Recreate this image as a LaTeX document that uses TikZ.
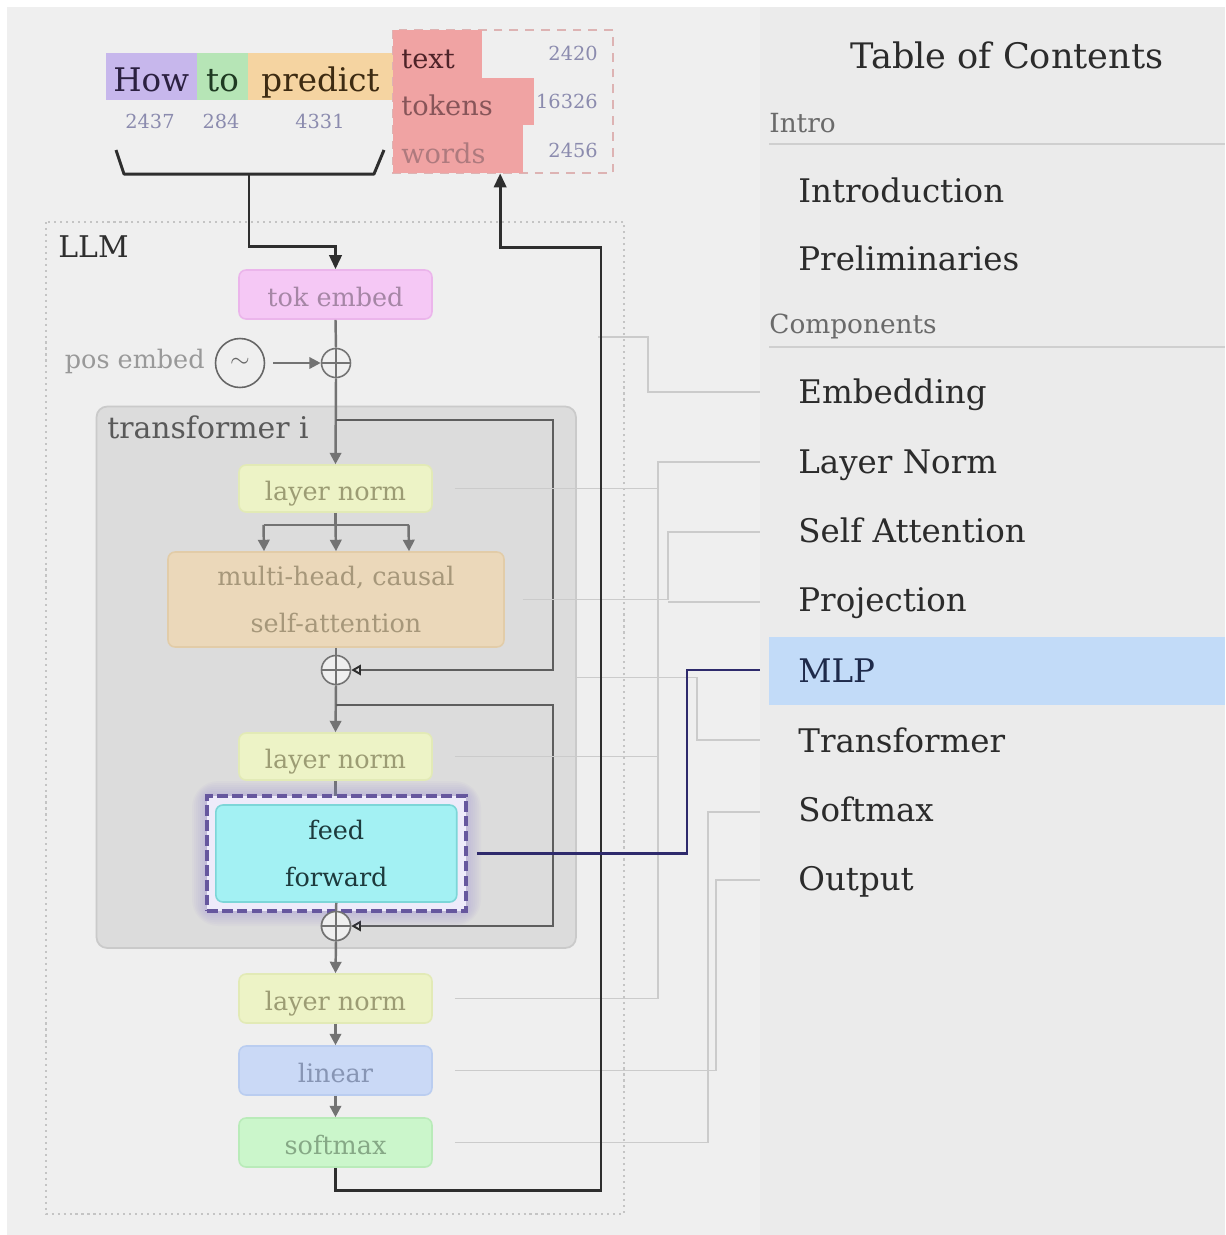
\documentclass[tikz,border=0pt]{standalone}
\usepackage{fontspec}
\setmainfont{DejaVu Serif}
\usetikzlibrary{arrows.meta,calc}

% page and panel
\definecolor{pagebg}{HTML}{EBEBEB}
\definecolor{panelbg}{HTML}{EFEFEF}
\definecolor{llmframe}{HTML}{C4C4C4}
\definecolor{tfbg}{HTML}{DCDCDC}
\definecolor{tfedge}{HTML}{CACACA}
\definecolor{flow}{HTML}{737373}
\definecolor{resid}{HTML}{5E5E5E}
\definecolor{ink}{HTML}{2E2E2E}
% blocks
\definecolor{tokfill}{HTML}{F5C8F5}\definecolor{tokedge}{HTML}{EBB5EB}\definecolor{toktext}{HTML}{A586A5}
\definecolor{lnfill}{HTML}{EDF3C6}\definecolor{lnedge}{HTML}{E2EAB6}\definecolor{lntext}{HTML}{9C9C74}
\definecolor{attfill}{HTML}{EBD8BA}\definecolor{attedge}{HTML}{E2CCA8}\definecolor{atttext}{HTML}{A6977A}
\definecolor{linfill}{HTML}{CAD9F6}\definecolor{linedge}{HTML}{BACDF0}\definecolor{lintext}{HTML}{8795B4}
\definecolor{smfill}{HTML}{CBF6CB}\definecolor{smedge}{HTML}{B9EBB9}\definecolor{smtext}{HTML}{86A886}
\definecolor{fffill}{HTML}{A3F1F3}\definecolor{ffedge}{HTML}{7DD6D8}\definecolor{fftext}{HTML}{1D3A3C}
\definecolor{ffframe}{HTML}{66579E}\definecolor{ffglow}{HTML}{8A78D8}\definecolor{ffhalo}{HTML}{EEEBFA}
% tokens
\definecolor{howfill}{HTML}{C7B7EC}\definecolor{howtext}{HTML}{2B2040}
\definecolor{tofill}{HTML}{B6E5B6}\definecolor{totext}{HTML}{1F3A22}
\definecolor{predfill}{HTML}{F5D4A1}\definecolor{predtext}{HTML}{3D2B12}
\definecolor{candfill}{HTML}{F0A3A3}
\definecolor{candA}{HTML}{4E2328}\definecolor{candB}{HTML}{875559}\definecolor{candC}{HTML}{AE7A7E}
\definecolor{numc}{HTML}{8B8BAE}
\definecolor{dashred}{HTML}{DDB3B3}
% contents list
\definecolor{mlpband}{HTML}{C2DBF8}
\definecolor{mlpink}{HTML}{1E2A4A}
\definecolor{mlplink}{HTML}{2E2A6C}
\definecolor{faint}{HTML}{CBCBCB}
\definecolor{tocink}{HTML}{2B2B2B}
\definecolor{tochead}{HTML}{6A6A6A}
\definecolor{tocrule}{HTML}{CFCFCF}

\tikzset{
  blk/.style={draw, rounded corners=4pt, line width=0.9pt, minimum width=3.86cm,
    minimum height=0.96cm, inner sep=0pt, text height=13.5pt, text depth=0pt,
    font=\fontsize{14.5}{26}\selectfont},
  twoline/.style={draw, rounded corners=4pt, line width=0.9pt, inner sep=0pt,
    align=center, font=\fontsize{14.5}{27}\selectfont},
  sumnode/.style={circle, draw=flow, line width=0.9pt, fill=panelbg, minimum size=0.58cm,
    inner sep=0pt, path picture={\draw[flow, line width=0.9pt]
      (path picture bounding box.north) -- (path picture bounding box.south)
      (path picture bounding box.west) -- (path picture bounding box.east);}},
  flowline/.style={draw=flow, line width=1.4pt},
  flowarrow/.style={flowline, -{Triangle[length=6.5pt,width=6.5pt]}},
  residline/.style={draw=resid, line width=1.2pt,
    -{Triangle[open,length=5.5pt,width=6pt,line width=1.1pt,color=ink]}},
  mainline/.style={draw=ink, line width=1.7pt},
  mainarrow/.style={mainline, -{Triangle[length=8pt,width=7pt]}},
  faintline/.style={draw=faint, line width=0.6pt},
  tocitem/.style={anchor=base west, inner sep=0pt, text=tocink, font=\fontsize{18.5}{22}\selectfont},
  tochd/.style={anchor=base west, inner sep=0pt, text=tochead, font=\fontsize{15}{18}\selectfont},
  num/.style={anchor=base, inner sep=0pt, text=numc, font=\fontsize{11}{13}\selectfont},
  tokw/.style={inner sep=0pt, minimum height=0.94cm, text height=17.6pt, text depth=0pt,
    font=\fontsize{18.5}{22}\selectfont},
  candbox/.style={fill=candfill, inner sep=0pt},
  candw/.style={anchor=base west, inner sep=0pt, font=\fontsize{15.5}{18}\selectfont},
  lbl/.style={anchor=base west, inner sep=0pt, font=\fontsize{17}{20}\selectfont},
}

\begin{document}
\begin{tikzpicture}[x={(0.02cm,0)}, y={(0,-0.02cm)}]
\useasboundingbox (0,0) rectangle (1225,1235);

% backgrounds
\fill[white] (0,0) rectangle (1225,1235);
\fill[panelbg] (7,7) rectangle (760,1235);
\fill[pagebg] (760,7) rectangle (1225,1235);

% ---------- input tokens ----------
\node[tokw, fill=howfill, text=howtext, minimum width=1.83cm] (how) at (151.25,76.5) {How};
\node[tokw, fill=tofill, text=totext, minimum width=1.02cm] (to) at (222.5,76.5) {to};
\node[tokw, fill=predfill, text=predtext, minimum width=2.9cm] (pred) at (320.5,76.5) {predict};
\node[num] (nhow) at (150,128) {2437};
\node[num] (nto) at (221,128) {284};
\node[num] (npred) at (320,128) {4331};

% ---------- candidate next tokens ----------
\draw[dashred, line width=1pt, dash pattern=on 5pt off 4pt] (393,30) rectangle (613,173);
\node[candbox, minimum width=1.78cm, minimum height=0.96cm] (cText) at (437.5,54) {};
\node[candbox, minimum width=2.82cm, minimum height=0.94cm] (cTok) at (463.5,101.5) {};
\node[candbox, minimum width=2.6cm, minimum height=0.96cm] (cWords) at (458,149) {};
\node[candw, text=candA] (wText) at (401,68) {text};
\node[candw, text=candB] (wTok) at (401,115) {tokens};
\node[candw, text=candC] (wWords) at (401,163) {words};
\node[num, anchor=base east] (pText) at (598,60) {2420};
\node[num, anchor=base east] (pTok) at (598,108) {16326};
\node[num, anchor=base east] (pWords) at (598,157) {2456};

% ---------- LLM frame ----------
\draw[llmframe, line width=1.2pt, dash pattern=on 1.2pt off 2.2pt] (46,222) rectangle (624,1214);
\node[lbl, text=ink] (llm) at (58,257) {LLM};

% transformer block
\node[draw=tfedge, fill=tfbg, line width=1pt, rounded corners=6pt, minimum width=9.59cm,
  minimum height=10.83cm, inner sep=0pt] (tf) at (336.25,677.25) {};
\node[lbl, text=black!65] (tflabel) at (107,438) {transformer i};

% ---------- blocks ----------
\node[blk, fill=tokfill, draw=tokedge, text=toktext, minimum height=0.98cm] (tok) at (335.5,294.5) {tok embed};
\node[sumnode] (s1) at (336,363) {};
\node[circle, draw=black!60, line width=0.9pt, minimum size=0.98cm, inner sep=0pt,
  font=\fontsize{14}{16}\selectfont, text=black!60] (pos) at (240,363) {$\sim$};
\node[anchor=base east, inner sep=0pt, text=black!40, font=\fontsize{14.5}{18}\selectfont] (poslbl) at (205,368) {pos embed};

\node[blk, fill=lnfill, draw=lnedge, text=lntext, minimum height=0.94cm] (ln1) at (335.5,488.5) {layer norm};
\node[twoline, fill=attfill, draw=attedge, text=atttext, minimum width=6.72cm, minimum height=1.9cm] (attn) at (336,599.5) {multi-head, causal\\self-attention};
\node[sumnode] (s2) at (336,670) {};
\node[blk, fill=lnfill, draw=lnedge, text=lntext, minimum height=0.94cm] (ln2) at (335.5,756.5) {layer norm};
\node[sumnode] (s3) at (336,926) {};
\node[blk, fill=lnfill, draw=lnedge, text=lntext, minimum height=0.98cm] (ln3) at (335.5,998.5) {layer norm};
\node[blk, fill=linfill, draw=linedge, text=lintext, minimum height=0.98cm] (lin) at (335.5,1070.5) {linear};
\node[blk, fill=smfill, draw=smedge, text=smtext, minimum height=0.98cm] (soft) at (335.5,1142.5) {softmax};

% ---------- flow inside the model ----------
\draw[flowline] (tok.south) -- (s1.north);
\draw[flowarrow] ($(pos.east)+(8,0)$) -- (s1.west);
\draw[flowarrow] (s1.south) -- (ln1.north);
\draw[flowline] (ln1.south) -- ++(0,12) coordinate (fork);
\draw[flowline] ($(fork)+(-72,0)$) -- ($(fork)+(73,0)$);
\draw[flowarrow] ($(fork)+(-72,0)$) -- ($(attn.north)+(-72,0)$);
\draw[flowarrow] (fork) -- (attn.north);
\draw[flowarrow] ($(fork)+(73,0)$) -- ($(attn.north)+(73,0)$);
\draw[flowline] (attn.south) -- (s2.north);
\draw[flowarrow] (s2.south) -- (ln2.north);
\draw[flowarrow] (s3.south) -- (ln3.north);
\draw[flowarrow] (ln3.south) -- (lin.north);
\draw[flowarrow] (lin.south) -- (soft.north);

% residual connections
\coordinate (r1) at (336,420);
\coordinate (r2) at (336,705);
\draw[residline] (r1) -- (553,420) |- (s2.east);
\draw[residline] (r2) -- (553,705) |- (s3.east);

% ---------- highlighted feed forward ----------
\draw[flowline] (ln2.south) -- ++(0,18);
% soft glow: stacked translucent layers
\foreach \g in {1,3,...,15}
  \fill[ffglow, opacity=0.045, rounded corners=\g pt]
    ($(336.5,853.5)+(-129.5-\g,57.5+\g)$) rectangle ($(336.5,853.5)+(129.5+\g,-57.5-\g)$);
\node[fill=ffhalo, draw=ffframe, line width=2.3pt, dash pattern=on 6pt off 2.5pt,
  preaction={draw=white, line width=2.3pt}, minimum width=5.18cm, minimum height=2.3cm,
  inner sep=0pt] (ffo) at (336.5,853.5) {};
\node[twoline, fill=fffill, draw=ffedge, text=fftext, minimum width=4.82cm, minimum height=1.94cm] (ff) at (336.3,853.5) {feed\\forward};
\draw[flowline] (ff.south) -- (s3.north);
\node[sumnode] at (s3) {};

% ---------- contents list ----------
\node[anchor=base west, inner sep=0pt, text=tocink, font=\fontsize{20}{24}\selectfont] (title) at (850,68) {Table of Contents};
\node[tochd] (hIntro) at (769,132) {Intro};
\draw[tocrule, line width=0.8pt] (769,144) -- (1225,144);
\node[tocitem] (tIntro) at (798,202) {Introduction};
\node[tocitem] (tPrelim) at (798,270) {Preliminaries};
\node[tochd] (hComp) at (769,333) {Components};
\draw[tocrule, line width=0.8pt] (769,347) -- (1225,347);
\fill[mlpband] (769,637) rectangle (1225,705);
\node[tocitem] (tEmb) at (798,403) {Embedding};
\node[tocitem] (tLN) at (798,473) {Layer Norm};
\node[tocitem] (tSA) at (798,542) {Self Attention};
\node[tocitem] (tProj) at (798,611) {Projection};
\node[tocitem, text=mlpink] (tMLP) at (798,682) {MLP};
\node[tocitem] (tTf) at (798,752) {Transformer};
\node[tocitem] (tSm) at (798,821) {Softmax};
\node[tocitem] (tOut) at (798,890) {Output};

% link ends beside the list
\coordinate (embL) at (760,392);
\coordinate (lnL) at (760,462);
\coordinate (saL) at (760,532);
\coordinate (prL) at (760,602);
\coordinate (mlpL) at (760,670);
\coordinate (trL) at (760,740);
\coordinate (smL) at (760,812);
\coordinate (outL) at (760,880);

% faint links from list entries to blocks
\draw[faintline] (598,337) -| (648,392) -- (embL);
\draw[faintline] ($(ln1.east)+(22,0)$) -- (658,488.5);
\draw[faintline] ($(ln2.east)+(22,0)$) -- (658,756.5);
\draw[faintline] ($(ln3.east)+(22,0)$) -| (658,462) -- (lnL);
\draw[faintline] ($(attn.east)+(18,0)$) -| (668,532) -- (saL);
\draw[faintline] (668,602) -- (prL);
\draw[faintline] (tf.east) -| (697,740) -- (trL);
\draw[faintline] ($(soft.east)+(22,0)$) -| (708,812) -- (smL);
\draw[faintline] ($(lin.east)+(22,0)$) -| (716,880) -- (outL);

% ---------- main data path ----------
\coordinate (brL) at (116,150);
\coordinate (brR) at (384,150);
\coordinate (brMid) at (249,174);
\draw[mainline, line join=round] (brL) -- (124,174) -- (374,174) -- (brR);
\draw[mainarrow] (brMid) |- ($(tok.north)+(0,-23)$) -- (tok.north);
\coordinate (outR) at (601,1190);
\coordinate (outT) at (601,247);
\draw[mainarrow] (soft.south) |- (outR) -- (outT) -| ($(cWords.south west)+(107.5,0)$);

% active link to the highlighted entry
\draw[mlplink, line width=1.2pt] ($(ffo.east)+(9,0)$) -| (687,670) -- (mlpL);
\end{tikzpicture}
\end{document}
